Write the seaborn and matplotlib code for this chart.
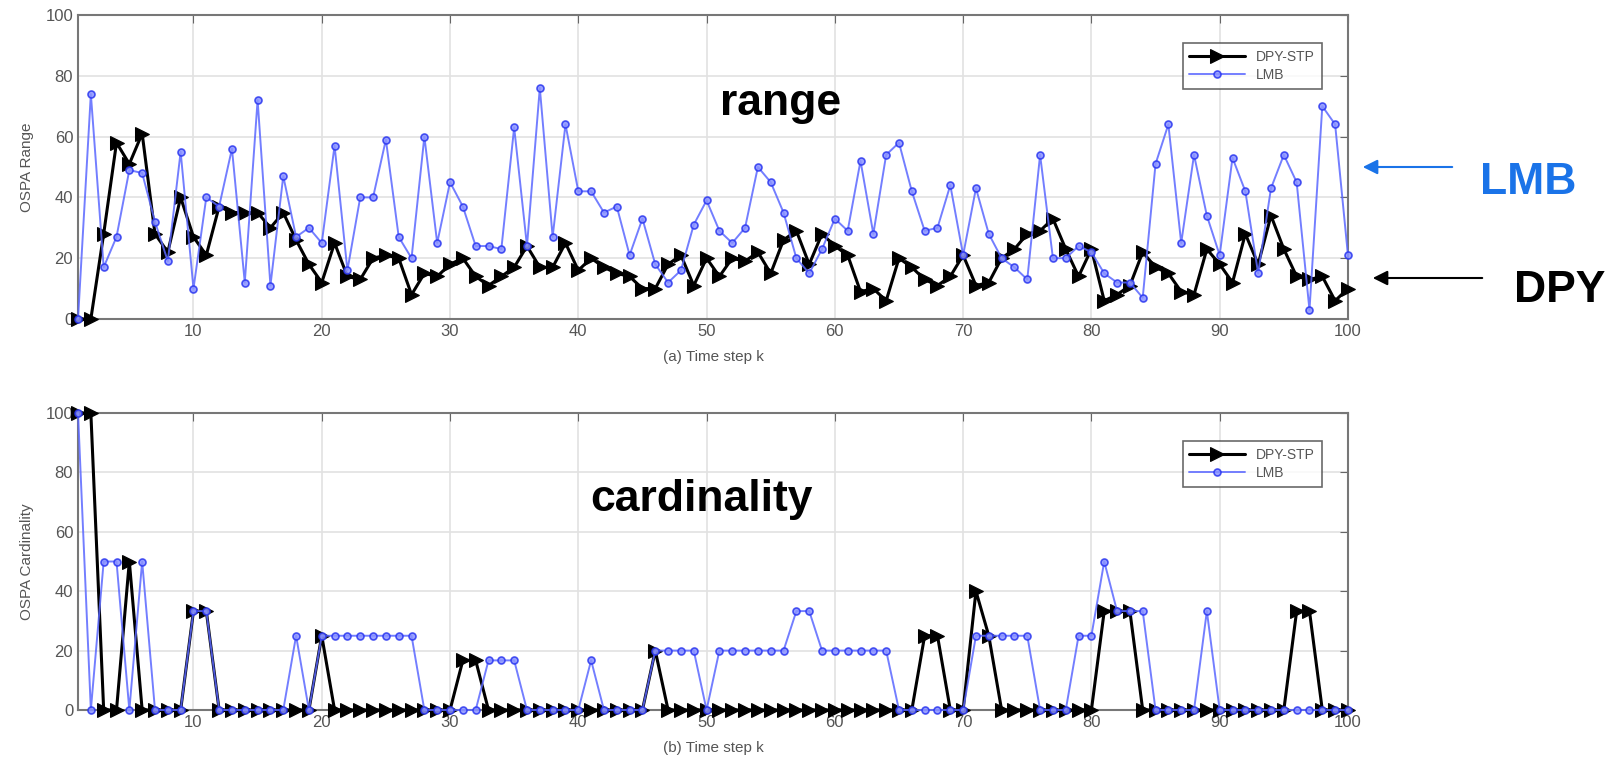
import seaborn as sns
import matplotlib.pyplot as plt

steps = list(range(1, 101))

# OSPA range (top panel)
range_dpy = [0, 0, 28, 58, 51, 61, 28, 22, 40, 27,
             21, 37, 35, 35, 35, 30, 35, 26, 18, 12,
             25, 14, 13, 20, 21, 20, 8, 15, 14, 18,
             20, 14, 11, 14, 17, 24, 17, 17, 25, 16,
             20, 17, 15, 14, 10, 10, 18, 21, 11, 20,
             14, 20, 19, 22, 15, 26, 29, 18, 28, 24,
             21, 9, 10, 6, 20, 17, 13, 11, 14, 21,
             11, 12, 20, 23, 28, 29, 33, 23, 14, 23,
             6, 8, 11, 22, 17, 15, 9, 8, 23, 18,
             12, 28, 18, 34, 23, 14, 13, 14, 6, 10]
range_lmb = [0, 74, 17, 27, 49, 48, 32, 19, 55, 10,
             40, 37, 56, 12, 72, 11, 47, 27, 30, 25,
             57, 16, 40, 40, 59, 27, 20, 60, 25, 45,
             37, 24, 24, 23, 63, 24, 76, 27, 64, 42,
             42, 35, 37, 21, 33, 18, 12, 16, 31, 39,
             29, 25, 30, 50, 45, 35, 20, 15, 23, 33,
             29, 52, 28, 54, 58, 42, 29, 30, 44, 21,
             43, 28, 20, 17, 13, 54, 20, 20, 24, 22,
             15, 12, 12, 7, 51, 64, 25, 54, 34, 21,
             53, 42, 15, 43, 54, 45, 3, 70, 64, 21]

# OSPA cardinality (bottom panel)
card_dpy = [100, 100, 0, 0, 50, 0, 0, 0, 0, 33.3,
            33.3, 0, 0, 0, 0, 0, 0, 0, 0, 25,
            0, 0, 0, 0, 0, 0, 0, 0, 0, 0,
            16.7, 16.7, 0, 0, 0, 0, 0, 0, 0, 0,
            0, 0, 0, 0, 0, 20, 0, 0, 0, 0,
            0, 0, 0, 0, 0, 0, 0, 0, 0, 0,
            0, 0, 0, 0, 0, 0, 25, 25, 0, 0,
            40, 25, 0, 0, 0, 0, 0, 0, 0, 0,
            33.3, 33.3, 33.3, 0, 0, 0, 0, 0, 0, 0,
            0, 0, 0, 0, 0, 33.3, 33.3, 0, 0, 0]
card_lmb = [100, 0, 50, 50, 0, 50, 0, 0, 0, 33.3,
            33.3, 0, 0, 0, 0, 0, 0, 25, 0, 25,
            25, 25, 25, 25, 25, 25, 25, 0, 0, 0,
            0, 0, 16.7, 16.7, 16.7, 0, 0, 0, 0, 0,
            16.7, 0, 0, 0, 0, 20, 20, 20, 20, 0,
            20, 20, 20, 20, 20, 20, 33.3, 33.3, 20, 20,
            20, 20, 20, 20, 0, 0, 0, 0, 0, 0,
            25, 25, 25, 25, 25, 0, 0, 0, 25, 25,
            50, 33.3, 33.3, 33.3, 0, 0, 0, 0, 33.3, 0,
            0, 0, 0, 0, 0, 0, 0, 0, 0, 0]

sns.set_style("whitegrid")
plt.rcParams['font.family'] = ['Liberation Sans', 'DejaVu Sans']

fig = plt.figure(figsize=(16.12, 7.84), dpi=100)
ax1 = fig.add_axes([0.0484, 0.5931, 0.7878, 0.3878])
ax2 = fig.add_axes([0.0484, 0.0944, 0.7878, 0.3788])

gray = '#555555'
blue_line = '#5b68ff'


def draw_panel(ax, dpy, lmb, ylabel, xlabel):
    sns.lineplot(x=steps, y=dpy, ax=ax, color='black', lw=2.2, marker='>',
                 markersize=10, markeredgecolor='black', label='DPY-STP',
                 clip_on=False, zorder=3)
    sns.lineplot(x=steps, y=lmb, ax=ax, color=blue_line, lw=1.4, alpha=0.85,
                 marker='o', markersize=5, markerfacecolor='#8a93ff',
                 markeredgecolor='#2a36f0', markeredgewidth=1.2, label='LMB',
                 clip_on=False, zorder=4)
    ax.set_xlim(1, 100)
    ax.set_ylim(0, 100)
    ax.set_xticks(range(10, 101, 10))
    ax.set_yticks(range(0, 101, 20))
    ax.grid(True, color='#e2e2e2', lw=1.2)
    for s in ax.spines.values():
        s.set_color('#777777')
        s.set_linewidth(1.5)
    ax.tick_params(direction='in', length=6, color='#666666', labelsize=12,
                   labelcolor=gray, top=True, right=True)
    ax.set_ylabel(ylabel, fontsize=11, color=gray, labelpad=8)
    ax.set_xlabel(xlabel, fontsize=11, color=gray, labelpad=8)
    leg = ax.legend(loc='upper right', bbox_to_anchor=(0.985, 0.93),
                    fontsize=10, frameon=True, fancybox=False,
                    handlelength=4, borderpad=0.5, labelspacing=0.3)
    leg.get_frame().set_edgecolor('#444444')
    leg.get_frame().set_linewidth(1.2)
    leg.set_zorder(10)
    for t in leg.get_texts():
        t.set_color(gray)


draw_panel(ax1, range_dpy, range_lmb, 'OSPA Range', '(a) Time step k')
draw_panel(ax2, card_dpy, card_lmb, 'OSPA Cardinality', '(b) Time step k')

fig.text(781 / 1612, 1 - 103 / 784, 'range', fontsize=32, fontweight='bold',
         color='black', ha='center', va='center')
fig.text(701 / 1612, 1 - 500 / 784, 'cardinality', fontsize=32,
         fontweight='bold', color='black', ha='center', va='center')
fig.text(1528 / 1612, 1 - 183 / 784, 'LMB', fontsize=32, fontweight='bold',
         color='#1a73e8', ha='center', va='center')
fig.text(1560 / 1612, 1 - 290 / 784, 'DPY', fontsize=32, fontweight='bold',
         color='black', ha='center', va='center')

fig.add_artist(plt.Annotation('', xy=(1360, 784 - 167), xytext=(1455, 784 - 167),
                              xycoords='figure pixels', textcoords='figure pixels',
                              arrowprops=dict(arrowstyle='-|>', color='#1a73e8',
                                              lw=1.5, mutation_scale=22)))
fig.add_artist(plt.Annotation('', xy=(1370, 784 - 278), xytext=(1485, 784 - 278),
                              xycoords='figure pixels', textcoords='figure pixels',
                              arrowprops=dict(arrowstyle='-|>', color='black',
                                              lw=1.5, mutation_scale=22)))

fig.savefig('out.png', dpi=100)
